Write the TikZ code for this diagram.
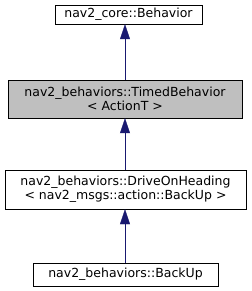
\documentclass[tikz,border=0pt]{standalone}
\usepackage{fontspec}
\setmainfont{DejaVu Sans}
\usetikzlibrary{arrows.meta}
\definecolor{edgeblue}{HTML}{191970}
\definecolor{boxgray}{HTML}{BFBFBF}
\begin{document}
\begin{tikzpicture}[x=1pt,y=-1pt]
				\useasboundingbox (0,0) rectangle (251,291);

				% Base class box
				\node[rectangle, draw=black, fill=white, minimum width=147pt, minimum height=19pt, inner sep=0pt, font=\fontsize{12.5}{14}\selectfont, align=center] (core) at (128.5,14.5) {nav2\_core::Behavior};

				% Timed behavior box (highlighted)
				\node[rectangle, draw=black, fill=boxgray, minimum width=234pt, minimum height=38pt, inner sep=0pt, font=\fontsize{12.5}{14}\selectfont, align=center] (timed) at (125,99) {nav2\_behaviors::TimedBehavior\\< ActionT >};

				% Drive on heading box
				\node[rectangle, draw=black, fill=white, minimum width=241pt, minimum height=39pt, inner sep=0pt, font=\fontsize{12.5}{14}\selectfont, align=center] (drive) at (125.5,189.5) {nav2\_behaviors::DriveOnHeading\\< nav2\_msgs::action::BackUp >};

				% Back up box
				\node[rectangle, draw=black, fill=white, minimum width=185pt, minimum height=23pt, inner sep=0pt, font=\fontsize{12.5}{14}\selectfont, align=center] (backup) at (125.5,274.5) {nav2\_behaviors::BackUp};

				% Inheritance arrows
				\draw[-{Triangle[length=15pt, width=10pt]}, edgeblue] (timed.north -| 125,0) -- (core.south -| 125,0);
				\draw[-{Triangle[length=15pt, width=10pt]}, edgeblue] (drive.north -| 125,0) -- (timed.south -| 125,0);
				\draw[-{Triangle[length=15pt, width=10pt]}, edgeblue] (backup.north -| 125,0) -- (drive.south -| 125,0);
			\end{tikzpicture}
\end{document}
